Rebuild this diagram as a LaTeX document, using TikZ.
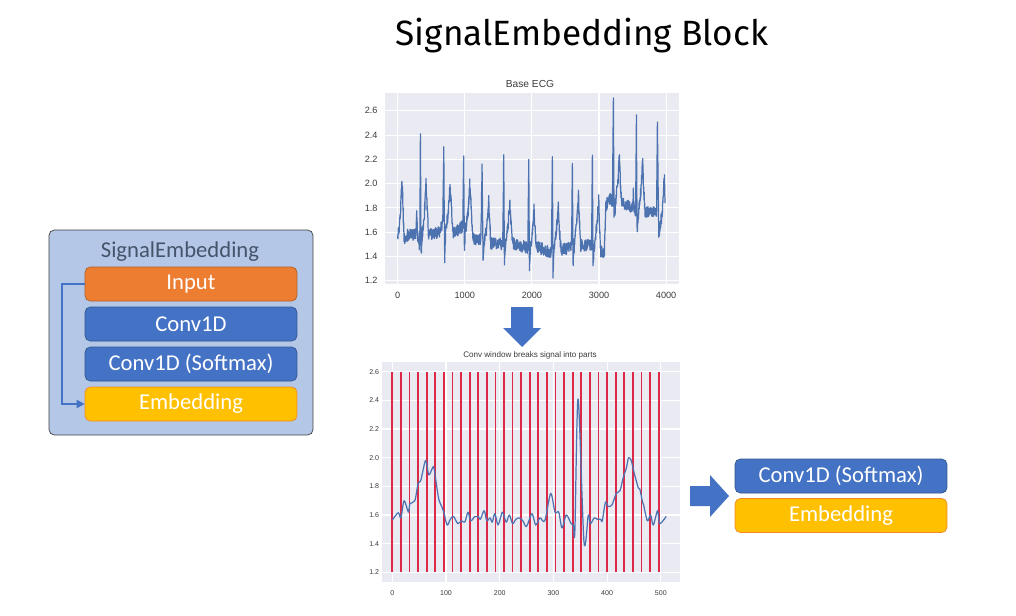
\documentclass[tikz,border=0pt]{standalone}
\usepackage{fontspec}
\usetikzlibrary{arrows.meta}
\newfontfamily\boxfont{Carlito}
\newfontfamily\plotfont{Liberation Sans}
\newfontfamily\headfont{Fira Sans}
\definecolor{convblue}{RGB}{68,114,196}
\definecolor{inorange}{RGB}{237,125,49}
\definecolor{embgold}{RGB}{255,192,0}
\definecolor{blockbg}{RGB}{180,199,231}
\definecolor{labelgray}{RGB}{68,84,106}
\definecolor{sbbg}{RGB}{234,234,242}
\definecolor{sbline}{RGB}{76,114,176}
\definecolor{winred}{RGB}{222,40,72}
\definecolor{ticktext}{RGB}{60,60,60}
\newcommand\layerfont{\boxfont\fontsize{12.9}{15}\selectfont}
\tikzset{
  layer/.style    = {rounded corners=3pt, draw=convblue!75!black, fill=convblue,
                     text=white, font=\layerfont, minimum width=4.24cm,
                     minimum height=0.68cm, inner sep=0pt},
  layerin/.style  = {layer, fill=inorange, draw=inorange!75!black},
  layeremb/.style = {layer, fill=embgold, draw=inorange!80!embgold},
  outerblk/.style = {rounded corners=3pt, draw=black!75, fill=blockbg,
                     minimum width=5.28cm, minimum height=4.1cm},
  skip/.style     = {draw=convblue, line width=1.1pt,
                     -{Triangle[length=1.6mm, width=1.6mm]}},
  bigarrow/.style = {fill=convblue},
  plotbg/.style   = {fill=sbbg},
  gridline/.style = {draw=white, line width=0.6pt},
  tickbig/.style  = {font=\plotfont\fontsize{5.2}{6}\selectfont, text=ticktext, inner sep=0pt},
  ticksmall/.style= {font=\plotfont\fontsize{4}{5}\selectfont, text=ticktext, inner sep=0pt},
  ecgline/.style  = {draw=sbline, line width=0.7pt, line join=round},
  winline/.style  = {draw=winred, line width=1pt},
}

\begin{document}
\begin{tikzpicture}[x=0.02cm, y=-0.02cm]
  \useasboundingbox[fill=white] (0,0) rectangle (1016,615);

  \node[font=\headfont\fontsize{20}{24}\selectfont] (title) at (582,36) {SignalEmbedding Block};

  % block on the left
  \node[outerblk] (blk) at (181,332.5) {};
  \node[text=labelgray, font=\layerfont] (blkname) at (180,252) {SignalEmbedding};
  \node[layerin]  (inp) at (191,284) {Input};
  \node[layer]    (cv1) at (191,324) {Conv1D};
  \node[layer]    (cv2) at (191,364) {Conv1D (Softmax)};
  \node[layeremb] (emb) at (191,404) {Embedding};
  \draw[skip] (inp.west) -- ++(-23,0) |- (emb.west);

  % base ecg
  \node[tickbig, font=\plotfont\fontsize{5.8}{7}\selectfont] (ecgtitle) at (530,84) {Base ECG};
  \begin{scope}[shift={(397.7,426.4)}, x=0.001342cm, y=2.428cm]
    \fill[plotbg] (-190,1.17) rectangle (4190,2.745);
    \foreach \v in {1.2,1.4,1.6,1.8,2.0,2.2,2.4,2.6} {
      \draw[gridline] (-190,\v) -- (4190,\v);
      \node[tickbig, anchor=east] at (-295,\v) {\v};
    }
    \foreach \s in {0,1000,2000,3000,4000} {
      \draw[gridline] (\s,1.17) -- (\s,2.745);
      \node[tickbig] at (\s,1.082) {\s};
    }
    \pgfmathsetseed{7}
    \draw[ecgline] (0,1.56) \foreach \c/\d [remember=\c as \a (initially 0),
        remember=\d as \b (initially 1.56), evaluate=\c as \n using int(2+(\c-\a)/3)] in
      {20/1.62, 35/1.70, 60/1.98, 72/1.93, 95/1.54, 150/1.58, 270/1.58, 283/1.75,
       300/1.55, 322/1.50, 330/1.56, 338/2.41, 348/1.41, 365/1.58, 395/1.72,
       422/2.00, 440/1.80, 457/1.58, 620/1.60, 672/1.68, 686/2.28, 700/1.37,
       715/1.62, 755/1.75, 775/1.99, 790/1.90, 820/1.60, 900/1.62, 970/1.65,
       983/2.21, 994/1.47, 1010/1.62, 1050/1.78, 1074/2.00, 1090/1.85, 1118/1.55,
       1240/1.54, 1257/2.15, 1272/1.36, 1290/1.52, 1330/1.65, 1356/1.86, 1370/1.70,
       1386/1.51, 1565/1.50, 1580/2.23, 1590/1.34, 1605/1.50, 1640/1.63, 1669/1.86,
       1685/1.70, 1714/1.51, 1940/1.47, 1953/2.20, 1963/1.30, 1980/1.46, 2010/1.62,
       2032/1.79, 2048/1.60, 2072/1.48, 2290/1.43, 2305/2.21, 2315/1.25, 2330/1.44,
       2370/1.65, 2394/1.82, 2410/1.62, 2434/1.45, 2590/1.48, 2603/2.17, 2613/1.32,
       2630/1.48, 2670/1.68, 2693/1.92, 2705/1.72, 2727/1.49, 2888/1.50, 2901/2.22,
       2911/1.31, 2930/1.48, 2975/1.70, 2996/1.87, 3008/1.60, 3026/1.44, 3080/1.44,
       3100/1.80, 3140/1.88, 3200/1.86, 3214/2.69, 3224/1.70, 3254/1.88, 3285/2.05,
       3304/2.23, 3318/2.00, 3338/1.84, 3500/1.80, 3512/1.96, 3520/1.80, 3545/1.78,
       3557/2.52, 3567/1.61, 3590/1.78, 3625/1.95, 3651/2.17, 3665/1.95, 3686/1.77,
       3858/1.78, 3870/2.52, 3890/1.58, 3940/1.75, 3974/2.07, 3985/1.85}
      { -- plot[domain=\a:\c, samples=\n] (\x, {\b+(\d-\b)*(\x-\a)/(\c-\a)+0.05*rand}) };
  \end{scope}

  % arrow down
  \fill[bigarrow] (511,307) -- (533,307) -- (533,328) -- (541,328) -- (522,347)
    -- (503,328) -- (511,328) -- cycle;

  % conv window
  \node[ticksmall, font=\plotfont\fontsize{4.6}{6}\selectfont] (wintitle) at (530,355) {Conv window breaks signal into parts};
  \begin{scope}[shift={(392.3,744.4)}, x=0.01074cm, y=2.868cm]
    \fill[plotbg] (-19,1.134) rectangle (536,2.669);
    \foreach \v in {1.2,1.4,1.6,1.8,2.0,2.2,2.4,2.6} {
      \draw[gridline] (-19,\v) -- (536,\v);
      \node[ticksmall, anchor=east] at (-24,\v) {\v};
    }
    \foreach \s in {0,100,200,300,400,500} {
      \draw[gridline] (\s,1.134) -- (\s,2.669);
      \node[ticksmall] at (\s,1.056) {\s};
    }
    \foreach \s in {0,16,...,496}
      \draw[winline] (\s,1.2) -- (\s,2.6);
    \draw[ecgline] plot[smooth, tension=0.5] coordinates {
      (0,1.565) (11,1.616) (16,1.58) (22,1.70) (30,1.62) (33,1.68) (42,1.70)
      (48,1.82) (53,1.84) (62,1.98) (68,1.88) (75,1.93) (78,1.92) (86,1.72)
      (92,1.66) (96,1.62) (102,1.53) (108,1.57) (114,1.59) (122,1.54) (129,1.56)
      (135,1.55) (141,1.62) (146,1.56) (154,1.59) (160,1.59) (164,1.57) (171,1.63)
      (176,1.56) (182,1.58) (186,1.55) (191,1.61) (197,1.53) (205,1.62) (212,1.55)
      (218,1.60) (224,1.54) (230,1.57) (236,1.58) (243,1.56) (250,1.52) (260,1.61)
      (267,1.53) (275,1.58) (284,1.56) (295,1.75) (303,1.62) (310,1.62) (316,1.51)
      (324,1.60) (333,1.54) (337,1.53) (340,1.49) (346,2.41) (357,1.41) (365,1.60)
      (369,1.54) (376,1.58) (382,1.57) (388,1.57) (391,1.56) (397,1.69) (402,1.66)
      (409,1.67) (417,1.75) (424,1.77) (430,1.86) (436,1.93) (440,2.00) (445,1.98)
      (450,1.90) (458,1.79) (461,1.78) (466,1.69) (468,1.67) (475,1.56) (481,1.60)
      (486,1.53) (494,1.63) (498,1.54) (510,1.59)};
  \end{scope}

  % arrow right
  \fill[bigarrow] (690,486) -- (710,486) -- (710,475) -- (729,496) -- (710,517)
    -- (710,506) -- (690,506) -- cycle;

  \node[layer]    (cv3)  at (841,476)   {Conv1D (Softmax)};
  \node[layeremb] (emb2) at (841,515.5) {Embedding};
\end{tikzpicture}
\end{document}
